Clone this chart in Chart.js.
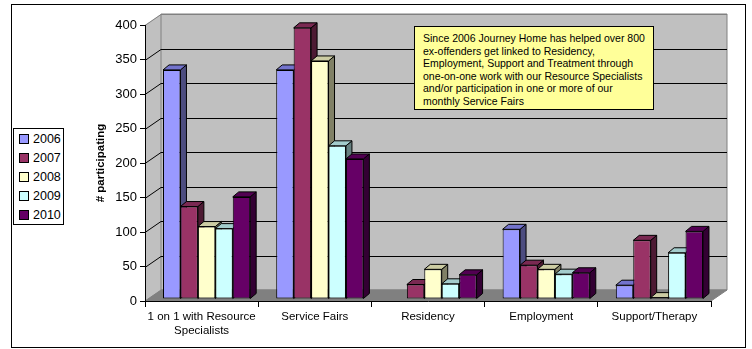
<!DOCTYPE html>
<html>
<head>
<meta charset="utf-8">
<script src="https://cdn.jsdelivr.net/npm/chart.js@4"></script>
<style>
html,body{margin:0;padding:0;background:#fff;}
#wrap{position:relative;width:752px;height:349px;overflow:hidden;font-family:"Liberation Sans",Arial,sans-serif;color:#000;}
#frame{position:absolute;left:11px;top:4px;width:733px;height:342px;border:1px solid #000;}
#c{position:absolute;left:0;top:0;}
#legend{position:absolute;left:13px;top:128px;width:49px;height:95px;border:1px solid #000;background:#fff;}
.li{position:absolute;left:5px;height:19px;line-height:19px;font-size:12.5px;white-space:nowrap;}
.sw{display:inline-block;width:8px;height:8px;border:1px solid #000;vertical-align:middle;margin-right:4px;position:relative;top:-1px;}
#note{position:absolute;left:414px;top:26px;width:230px;height:77px;border:1px solid #000;background:#FFFF99;padding:5px 0 0 8px;font-size:10.5px;line-height:12.5px;white-space:nowrap;}
</style>
</head>
<body>
<div id="wrap">
  <div id="frame"></div>
  <canvas id="c" width="752" height="349"></canvas>
  <div id="legend"></div>
  <div id="note"></div>
</div>
<script>
// ---- data ----
const categories = [["1 on 1 with Resource", "Specialists"], "Service Fairs", "Residency", "Employment", "Support/Therapy"];
const seriesNames = ["2006", "2007", "2008", "2009", "2010"];
const values2006 = [332, 332, 0, 101, 20];
const values2007 = [134, 393, 21, 49, 85];
const values2008 = [105, 345, 43, 43, 2];
const values2009 = [102, 222, 22, 36, 67];
const values2010 = [148, 203, 35, 38, 98];
const yMin = 0, yMax = 400, yStep = 50;
const yTitle = "# participating";
const noteLines = [
  "Since 2006 Journey Home has helped over 800",
  "ex-offenders get linked to Residency,",
  "Employment, Support and Treatment through",
  "one-on-one work with our Resource Specialists",
  "and/or participation in one or more of our",
  "monthly Service Fairs"
];

// ---- styles ----
const frontColors = ["#9999FF", "#993366", "#FFFFCC", "#CCFFFF", "#660066"];
const topColors   = ["#7373CC", "#7A2952", "#CCCCA3", "#A3CCCC", "#520052"];
const sideColors  = ["#4D4D80", "#4D1A33", "#808066", "#668080", "#330033"];
const allValues = [values2006, values2007, values2008, values2009, values2010];

const WALL = {dx: 16, dy: -11};
const BAR3D = {dx: 6, dy: -5};
const BAR_SHIFT = {x: 5, y: -2};

// legend
const legendEl = document.getElementById('legend');
seriesNames.forEach((n, i) => {
  const d = document.createElement('div');
  d.className = 'li';
  d.style.top = (1 + i * 19) + 'px';
  d.innerHTML = '<span class="sw" style="background:' + frontColors[i] + '"></span>' + n;
  legendEl.appendChild(d);
});
// note
document.getElementById('note').innerHTML = noteLines.map(s => '<div>' + s + '</div>').join('');

function poly(ctx, pts, fill, stroke) {
  ctx.beginPath();
  ctx.moveTo(pts[0][0], pts[0][1]);
  for (let i = 1; i < pts.length; i++) ctx.lineTo(pts[i][0], pts[i][1]);
  ctx.closePath();
  if (fill) { ctx.fillStyle = fill; ctx.fill(); }
  if (stroke) { ctx.strokeStyle = stroke; ctx.lineWidth = 1; ctx.stroke(); }
}

const wallsPlugin = {
  id: 'walls',
  beforeDraw(chart) {
    const {ctx, chartArea: a, scales: {y}} = chart;
    const dx = WALL.dx, dy = WALL.dy;
    ctx.save();
    // left wall
    poly(ctx, [[a.left, a.top], [a.left + dx, a.top + dy], [a.left + dx, a.bottom + dy], [a.left, a.bottom]], '#C0C0C0', null);
    // back wall
    poly(ctx, [[a.left + dx, a.top + dy], [a.right + dx, a.top + dy], [a.right + dx, a.bottom + dy], [a.left + dx, a.bottom + dy]], '#C0C0C0', '#808080');
    // floor
    poly(ctx, [[a.left, a.bottom], [a.right, a.bottom], [a.right + dx, a.bottom + dy], [a.left + dx, a.bottom + dy]], '#808080', '#808080');
    // grid lines
    y.ticks.forEach(t => {
      const py = Math.round(y.getPixelForValue(t.value)) + 0.5;
      const inner = t.value > yMin && t.value < yMax;
      ctx.beginPath();
      ctx.moveTo(a.left, py);
      ctx.lineTo(a.left + dx, py + dy);
      ctx.lineTo(a.right + dx, py + dy);
      ctx.strokeStyle = inner ? '#000' : '#808080';
      ctx.lineWidth = 1;
      ctx.stroke();
    });
    ctx.restore();
  },
  beforeDatasetsDraw(chart) {
    const ctx = chart.ctx;
    ctx.save();
    ctx.translate(BAR_SHIFT.x, BAR_SHIFT.y);
    chart.data.datasets.forEach((ds, i) => {
      const meta = chart.getDatasetMeta(i);
      meta.data.forEach((el, j) => {
        if (!ds.data[j]) return;
        const p = el.getProps(['x', 'y', 'base', 'width'], true);
        const l = p.x - p.width / 2, r = p.x + p.width / 2;
        const bx = BAR3D.dx, by = BAR3D.dy;
        poly(ctx, [[r, p.y], [r + bx, p.y + by], [r + bx, p.base + by], [r, p.base]], sideColors[i], '#000');
        poly(ctx, [[l, p.y], [r, p.y], [r + bx, p.y + by], [l + bx, p.y + by]], topColors[i], '#000');
      });
    });
  },
  afterDatasetsDraw(chart) {
    chart.ctx.restore();
  }
};

Chart.defaults.font.family = '"Liberation Sans", Arial, sans-serif';
Chart.defaults.color = '#000';

new Chart(document.getElementById('c'), {
  type: 'bar',
  data: {
    labels: categories,
    datasets: seriesNames.map((n, i) => ({
      label: n,
      data: allValues[i],
      backgroundColor: frontColors[i],
      borderColor: '#000',
      borderWidth: (c) => (c.raw ? 1 : 0),
      borderSkipped: false,
      barPercentage: 1,
      categoryPercentage: 0.77
    }))
  },
  options: {
    responsive: false,
    animation: false,
    events: [],
    layout: {padding: {left: 90, right: 41, top: 25, bottom: 0}},
    plugins: {legend: {display: false}, tooltip: {enabled: false}},
    scales: {
      x: {
        grid: {drawOnChartArea: false, color: '#000', tickLength: 6, offset: true},
        border: {color: '#000'},
        ticks: {font: {size: 11.5}, padding: 3, maxRotation: 0, autoSkip: false},
        afterFit(s) { s.height = 48; }
      },
      y: {
        min: yMin, max: yMax,
        ticks: {stepSize: yStep, font: {size: 13}, padding: 3},
        grid: {drawOnChartArea: false, color: '#000', tickLength: 5},
        border: {color: '#000'},
        title: {display: true, text: yTitle, font: {size: 11.5, weight: 'bold'}, padding: 4},
        afterFit(s) { s.width = 55; }
      }
    }
  },
  plugins: [wallsPlugin]
});
</script>
</body>
</html>
